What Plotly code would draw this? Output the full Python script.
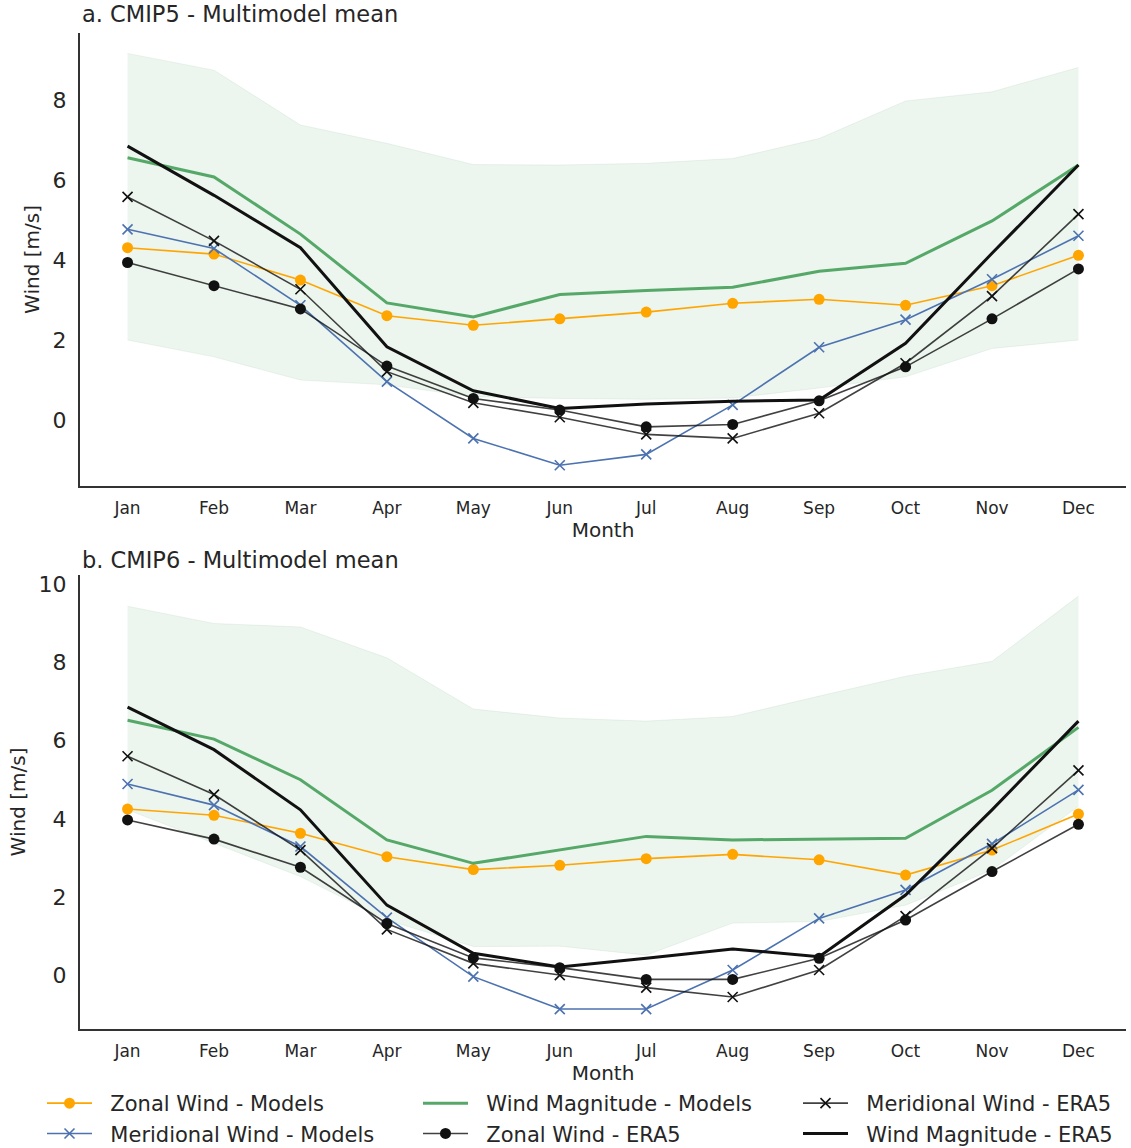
import plotly.graph_objects as go

months = ["Jan", "Feb", "Mar", "Apr", "May", "Jun", "Jul", "Aug", "Sep", "Oct", "Nov", "Dec"]

# a. CMIP5 multimodel mean + ERA5
zonal_models_5 = [4.31, 4.15, 3.50, 2.61, 2.37, 2.53, 2.70, 2.92, 3.02, 2.87, 3.36, 4.12]
merid_models_5 = [4.77, 4.29, 2.87, 0.96, -0.46, -1.13, -0.86, 0.38, 1.82, 2.51, 3.52, 4.61]
mag_models_5 = [6.56, 6.08, 4.65, 2.93, 2.58, 3.14, 3.24, 3.32, 3.72, 3.92, 4.98, 6.38]
zonal_era5_5 = [3.94, 3.36, 2.78, 1.35, 0.54, 0.25, -0.17, -0.11, 0.48, 1.33, 2.53, 3.78]
merid_era5_5 = [5.58, 4.48, 3.27, 1.21, 0.43, 0.07, -0.36, -0.46, 0.17, 1.42, 3.10, 5.15]
mag_era5_5 = [6.85, 5.62, 4.31, 1.83, 0.73, 0.29, 0.40, 0.47, 0.50, 1.92, 4.17, 6.38]
band_hi_5 = [9.17, 8.75, 7.38, 6.92, 6.39, 6.38, 6.42, 6.54, 7.04, 7.98, 8.21, 8.82]
band_lo_5 = [2.00, 1.58, 1.00, 0.88, 0.58, 0.54, 0.52, 0.55, 0.80, 1.08, 1.79, 2.00]

# b. CMIP6 multimodel mean + ERA5
zonal_models_6 = [4.25, 4.09, 3.63, 3.03, 2.70, 2.81, 2.98, 3.09, 2.95, 2.56, 3.20, 4.12]
merid_models_6 = [4.89, 4.35, 3.29, 1.47, -0.04, -0.87, -0.87, 0.13, 1.45, 2.18, 3.36, 4.74]
mag_models_6 = [6.52, 6.04, 5.00, 3.46, 2.86, 3.20, 3.55, 3.46, 3.48, 3.50, 4.73, 6.34]
zonal_era5_6 = [3.97, 3.48, 2.76, 1.32, 0.44, 0.19, -0.11, -0.11, 0.43, 1.41, 2.65, 3.86]
merid_era5_6 = [5.60, 4.62, 3.20, 1.17, 0.30, 0.00, -0.32, -0.56, 0.13, 1.51, 3.25, 5.24]
mag_era5_6 = [6.86, 5.77, 4.23, 1.79, 0.56, 0.21, 0.43, 0.67, 0.47, 2.05, 4.23, 6.50]
band_hi_6 = [9.44, 9.00, 8.91, 8.12, 6.81, 6.58, 6.50, 6.62, 7.14, 7.65, 8.03, 9.70]
band_lo_6 = [4.23, 3.38, 2.52, 1.41, 0.73, 0.74, 0.51, 1.33, 1.37, 1.79, 2.69, 4.32]

panel_titles = ["a. CMIP5 - Multimodel mean", "b. CMIP6 - Multimodel mean"]
series_names = ["Zonal Wind - Models", "Meridional Wind - Models", "Wind Magnitude - Models",
                "Zonal Wind - ERA5", "Meridional Wind - ERA5", "Wind Magnitude - ERA5"]

FONT = "DejaVu Sans"
TXT = "#262626"
ORANGE = "#FFA500"
BLUE = "#4C72B0"
GREEN = "#55A868"
BLACK = "#111111"
THIN_BLACK = "rgba(17,17,17,0.8)"

W, H = 1131, 1148
PAD = "\u00a0\u00a0"  # a little breathing room between legend symbol and label


def px_x(p):
    return p / W


def px_y(p):
    return 1 - p / H


fig = go.Figure()

panels = [
    (zonal_models_5, merid_models_5, mag_models_5, zonal_era5_5, merid_era5_5, mag_era5_5, band_lo_5, band_hi_5),
    (zonal_models_6, merid_models_6, mag_models_6, zonal_era5_6, merid_era5_6, mag_era5_6, band_lo_6, band_hi_6),
]

for i, (zm, mm, wm, ze, me, we, lo, hi) in enumerate(panels):
    xa = "x" if i == 0 else "x2"
    ya = "y" if i == 0 else "y2"
    show = i == 1
    # model spread envelope
    fig.add_trace(go.Scatter(x=months, y=lo, mode="lines", xaxis=xa, yaxis=ya,
                             line=dict(color="rgba(85,168,104,0.10)", width=1),
                             showlegend=False, hoverinfo="skip"))
    fig.add_trace(go.Scatter(x=months, y=hi, mode="lines", xaxis=xa, yaxis=ya,
                             fill="tonexty", fillcolor="rgba(85,168,104,0.11)",
                             line=dict(color="rgba(85,168,104,0.10)", width=1),
                             showlegend=False, hoverinfo="skip"))
    fig.add_trace(go.Scatter(x=months, y=zm, mode="lines+markers", xaxis=xa, yaxis=ya,
                             name=PAD + series_names[0], legend="legend", showlegend=show,
                             line=dict(color=ORANGE, width=1.6),
                             marker=dict(color=ORANGE, size=11, symbol="circle")))
    fig.add_trace(go.Scatter(x=months, y=mm, mode="lines+markers", xaxis=xa, yaxis=ya,
                             name=PAD + series_names[1], legend="legend", showlegend=show,
                             line=dict(color=BLUE, width=1.6),
                             marker=dict(color=BLUE, size=10, symbol="x-thin",
                                         line=dict(color=BLUE, width=1.6))))
    fig.add_trace(go.Scatter(x=months, y=wm, mode="lines", xaxis=xa, yaxis=ya,
                             name=PAD + series_names[2], legend="legend2", showlegend=show,
                             line=dict(color=GREEN, width=3)))
    fig.add_trace(go.Scatter(x=months, y=ze, mode="lines+markers", xaxis=xa, yaxis=ya,
                             name=PAD + series_names[3], legend="legend2", showlegend=show,
                             line=dict(color=THIN_BLACK, width=1.6),
                             marker=dict(color=BLACK, size=11, symbol="circle")))
    fig.add_trace(go.Scatter(x=months, y=me, mode="lines+markers", xaxis=xa, yaxis=ya,
                             name=PAD + series_names[4], legend="legend3", showlegend=show,
                             line=dict(color=THIN_BLACK, width=1.6),
                             marker=dict(color=BLACK, size=10, symbol="x-thin",
                                         line=dict(color=BLACK, width=1.6))))
    fig.add_trace(go.Scatter(x=months, y=we, mode="lines", xaxis=xa, yaxis=ya,
                             name=PAD + series_names[5], legend="legend3", showlegend=show,
                             line=dict(color=BLACK, width=3)))

x_dom = [px_x(80), px_x(1126)]
common_x = dict(domain=x_dom, range=[-0.55, 11.55], showline=True, linecolor="#333333",
                linewidth=2, showgrid=False, zeroline=False, ticks="",
                tickfont=dict(size=17, color=TXT, family=FONT), ticklabelstandoff=6,
                title=dict(text="Month", font=dict(size=20, color=TXT, family=FONT), standoff=4))
common_y = dict(showline=True, linecolor="#333333", linewidth=2, showgrid=False,
                zeroline=False, ticks="", tickfont=dict(size=22, color=TXT, family=FONT),
                ticklabelstandoff=7,
                title=dict(text="Wind [m/s]", font=dict(size=20, color=TXT, family=FONT), standoff=8))

fig.update_layout(
    width=W, height=H, margin=dict(l=0, r=0, t=0, b=0, autoexpand=False),
    paper_bgcolor="white", plot_bgcolor="white",
    font=dict(family=FONT, color=TXT),
    xaxis=dict(common_x, anchor="y"),
    yaxis=dict(common_y, domain=[px_y(486), px_y(33)], range=[-1.65, 9.68],
               tickvals=[0, 2, 4, 6, 8], anchor="x"),
    xaxis2=dict(common_x, anchor="y2"),
    yaxis2=dict(common_y, domain=[px_y(1029), px_y(575)], range=[-1.38, 10.24],
                tickvals=[0, 2, 4, 6, 8, 10], anchor="x2"),
)

legend_style = dict(orientation="v", yanchor="top", xanchor="left", y=px_y(1083),
                    font=dict(size=21, color=TXT, family=FONT), bgcolor="rgba(0,0,0,0)",
                    itemwidth=45, tracegroupgap=0, traceorder="normal")
fig.update_layout(
    legend=dict(legend_style, x=px_x(42)),
    legend2=dict(legend_style, x=px_x(418)),
    legend3=dict(legend_style, x=px_x(798)),
)

for title, ytop in zip(panel_titles, [14.5, 560]):
    fig.add_annotation(text=title, xref="paper", yref="paper", x=px_x(80), y=px_y(ytop),
                       xanchor="left", yanchor="middle", showarrow=False,
                       font=dict(size=22.5, color=TXT, family=FONT))

fig.write_html("out.html")
